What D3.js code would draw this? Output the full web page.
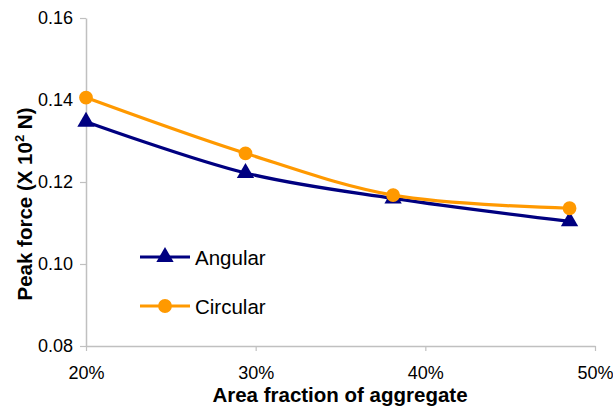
<!DOCTYPE html>
<html><head><meta charset="utf-8">
<script src="https://cdn.jsdelivr.net/npm/d3@7"></script>
<style>body{margin:0;background:#fff}svg{display:block}text{font-family:"Liberation Sans",Arial,sans-serif}</style>
</head><body>
<script>
const xValues = [0.20, 0.294, 0.381, 0.485];
const angular = [0.1347, 0.1222, 0.1160, 0.1104];
const circular = [0.1406, 0.1270, 0.1168, 0.1136];
const seriesNames = ["Angular", "Circular"];
const xTicks = [0.2, 0.3, 0.4, 0.5];
const yTicks = [0.08, 0.10, 0.12, 0.14, 0.16];

const W = 613, H = 407;
const svg = d3.select("body").append("svg").attr("width", W).attr("height", H);
const x = d3.scaleLinear().domain([0.2, 0.5]).range([86, 595]);
const y = d3.scaleLinear().domain([0.08, 0.16]).range([346, 18]);
const axisColor = "#c0c0c0";

const gx = svg.append("g").attr("transform", "translate(0,346)")
  .call(d3.axisBottom(x).tickValues(xTicks).tickFormat(d3.format(".0%")).tickSize(5).tickPadding(15).tickSizeOuter(0));
const gy = svg.append("g").attr("transform", "translate(86,0)")
  .call(d3.axisLeft(y).tickValues(yTicks).tickFormat(d3.format(".2f")).tickSize(6).tickPadding(7).tickSizeOuter(0));
[gx, gy].forEach(g => {
  g.select(".domain").attr("stroke", axisColor).attr("stroke-width", 1.5);
  g.selectAll(".tick line").attr("stroke", axisColor).attr("stroke-width", 1.2);
  g.selectAll(".tick text").attr("fill", "#000").style("font-size", "18px").style("font-family", "Liberation Sans, Arial, sans-serif");
});
gx.selectAll(".tick text").filter(d => d === 0.5).attr("text-anchor", "end").attr("dx", "18");

const line = d3.line().x(d => x(d[0])).y(d => y(d[1])).curve(d3.curveCatmullRom.alpha(0.5));
const series = [
  {name: seriesNames[0], vals: angular, color: "#000080", marker: d3.symbolTriangle, size: 130},
  {name: seriesNames[1], vals: circular, color: "#FF9900", marker: d3.symbolCircle, size: 150}
];
series.forEach(s => {
  const pts = xValues.map((xv, i) => [xv, s.vals[i]]);
  svg.append("path").datum(pts).attr("d", line).attr("fill", "none").attr("stroke", s.color).attr("stroke-width", 3.2);
  svg.selectAll(null).data(pts).enter().append("path")
    .attr("d", d3.symbol().type(s.marker).size(s.size))
    .attr("transform", d => `translate(${x(d[0])},${y(d[1])})`)
    .attr("fill", s.color);
});

// legend
const legY = [257, 306];
series.forEach((s, i) => {
  const g = svg.append("g").attr("transform", `translate(0,${legY[i]})`);
  g.append("line").attr("x1", 140).attr("x2", 190).attr("y1", 0).attr("y2", 0).attr("stroke", s.color).attr("stroke-width", 3.2);
  g.append("path").attr("d", d3.symbol().type(s.marker).size(s.size)).attr("transform", "translate(165,0)").attr("fill", s.color);
  g.append("text").attr("x", 195).attr("y", 7.5).style("font-size", "20.5px").text(s.name);
});

// axis titles
svg.append("text").attr("x", 340).attr("y", 402).attr("text-anchor", "middle")
  .style("font-size", "20.5px").style("font-weight", "bold").text("Area fraction of aggregate");
const yt = svg.append("text").attr("transform", "translate(32,204) rotate(-90)").attr("text-anchor", "middle")
  .style("font-size", "20.5px").style("font-weight", "bold");
yt.append("tspan").text("Peak force (X 10");
yt.append("tspan").attr("dy", -8).style("font-size", "13px").text("2");
yt.append("tspan").attr("dy", 8).text(" N)");
</script>
</body></html>
